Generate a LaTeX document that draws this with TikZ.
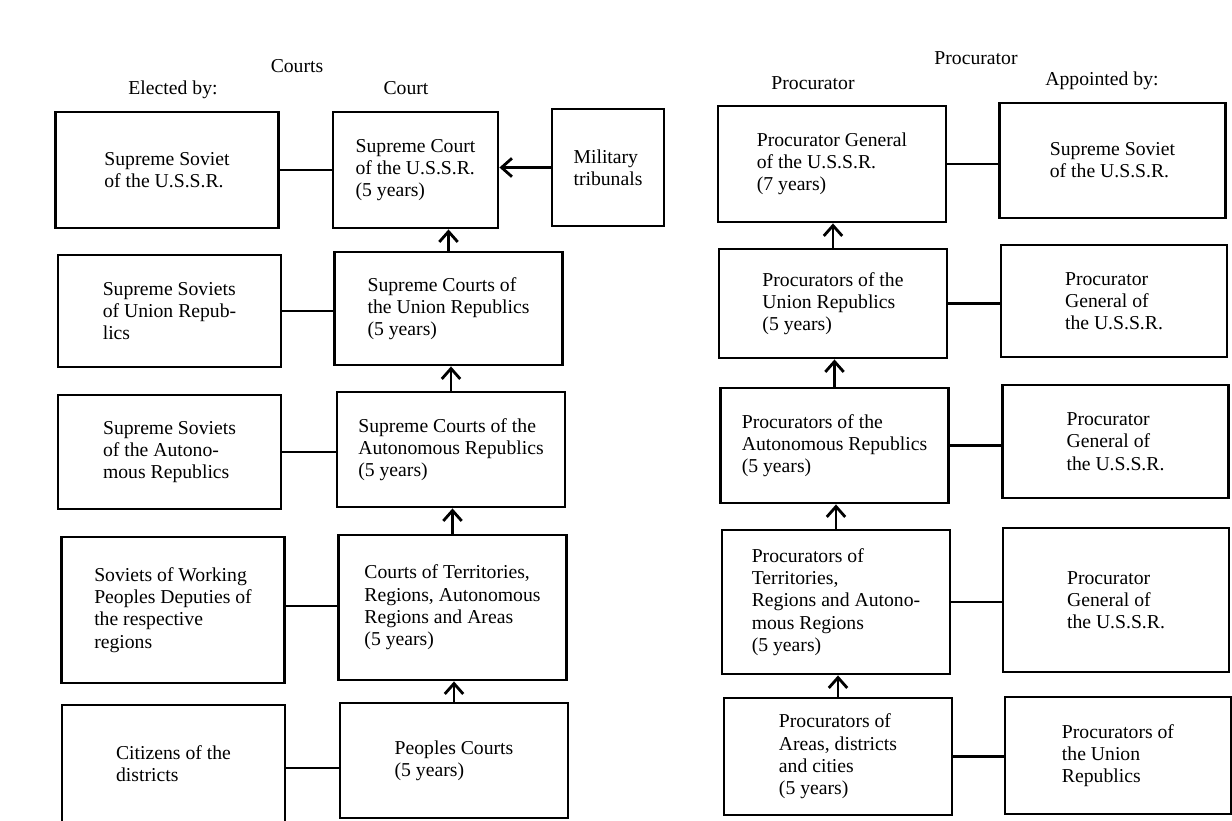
\documentclass[tikz,border=0pt]{standalone}
\usepackage{fontspec}
\setmainfont{Liberation Serif}
\usetikzlibrary{arrows.meta}

\begin{document}
\begin{tikzpicture}[x=0.025cm, y=-0.025cm, >={Straight Barb[length=2.6mm, width=4.6mm]},
  font=\fontsize{14}{15.8}\selectfont, align=left, line width=2pt,
  box/.style={draw, inner sep=0pt},
  elect/.style={box, minimum width=5.575cm},
  court/.style={box, minimum width=5.7cm},
  proc/.style={box, minimum width=5.7cm},
  appt/.style={box, minimum width=5.65cm}]
  \useasboundingbox (0,0) rectangle (1232,821);

  % headings
  \node (courts) at (297,66) {Courts};
  \node (elected) at (173,90) {Elected by:};
  \node (court) at (406,88) {Court};
  \node (procs) at (976,58) {Procurator};
  \node (proc) at (813,83) {Procurator};
  \node (appointed) at (1102,81) {Appointed by:};

  % electing bodies
  \node[elect, minimum height=2.9cm] (sov) at (167,170) {Supreme Soviet\\of the U.S.S.R.};
  \node[elect, minimum height=2.8cm] (sovrep) at (169.5,311) {Supreme Soviets\\of Union Repub-\\lics};
  \node[elect, minimum height=2.85cm] (sovaut) at (169.5,452) {Supreme Soviets\\of the Autono-\\mous Republics};
  \node[elect, minimum height=3.65cm] (sovreg) at (173,610) {Soviets of Working\\Peoples Deputies of\\the respective\\regions};
  \node[elect, minimum height=2.95cm] (cit) at (173.5,764) {Citizens of the\\districts};

  % courts
  \node[court, minimum width=4.125cm, minimum height=2.9cm] (sc) at (415.5,170) {Supreme Court\\of the U.S.S.R.\\(5 years)};
  \node[court, minimum height=2.825cm] (screp) at (448.5,308.5) {Supreme Courts of\\the Union Republics\\(5 years)};
  \node[court, minimum height=2.875cm] (scaut) at (451,449.5) {Supreme Courts of the\\Autonomous Republics\\(5 years)};
  \node[court, minimum height=3.625cm] (creg) at (452.5,607.5) {Courts of Territories,\\Regions, Autonomous\\Regions and Areas\\(5 years)};
  \node[court, minimum height=2.875cm] (pc) at (454,760.5) {Peoples Courts\\(5 years)};
  \node[box, minimum width=2.8cm, minimum height=2.925cm] (mil) at (608,167.5) {Military\\tribunals};

  % procurators
  \node[proc, minimum height=2.9cm] (pg) at (832,164) {Procurator General\\of the U.S.S.R.\\(7 years)};
  \node[proc, minimum height=2.725cm] (prep) at (833,303.5) {Procurators of the\\Union Republics\\(5 years)};
  \node[proc, minimum height=2.875cm] (paut) at (834.5,445.5) {Procurators of the\\Autonomous Republics\\(5 years)};
  \node[proc, minimum height=3.6cm] (preg) at (836,602) {Procurators of\\Territories,\\Regions and Autono-\\mous Regions\\(5 years)};
  \node[proc, minimum height=2.925cm] (parea) at (838,756.5) {Procurators of\\Areas, districts\\and cities\\(5 years)};

  % appointing bodies
  \node[appt, minimum height=2.875cm] (asov) at (1112.5,160.5) {Supreme Soviet\\of the U.S.S.R.};
  \node[appt, minimum height=2.8cm] (apg1) at (1114,301) {Procurator\\General of\\the U.S.S.R.};
  \node[appt, minimum height=2.825cm] (apg2) at (1115.5,441.5) {Procurator\\General of\\the U.S.S.R.};
  \node[appt, minimum height=3.6cm] (apg3) at (1116,600) {Procurator\\General of\\the U.S.S.R.};
  \node[appt, minimum height=2.925cm] (aprep) at (1118,755.5) {Procurators of\\the Union\\Republics};

  % elected by
  \draw (sov.east) -- (sov.east -| sc.west);
  \draw (sovrep.east) -- (sovrep.east -| screp.west);
  \draw (sovaut.east) -- (sovaut.east -| scaut.west);
  \draw ([yshift=0.1cm]sovreg.east) -- ([yshift=0.1cm]sovreg.east -| creg.west);
  \draw ([yshift=-0.1cm]cit.east) -- ([yshift=-0.1cm]cit.east -| pc.west);
  \draw[->] (mil.west) -- (mil.west -| sc.east);

  % court hierarchy
  \draw[->] (screp.north) -- (screp.north |- sc.south);
  \draw[->] (scaut.north) -- (scaut.north |- screp.south);
  \draw[->] (creg.north) -- (creg.north |- scaut.south);
  \draw[->] (pc.north) -- (pc.north |- creg.south);

  % procurator hierarchy
  \draw[->] (prep.north) -- (prep.north |- pg.south);
  \draw[->] (paut.north) -- (paut.north |- prep.south);
  \draw[->] (preg.north) -- (preg.north |- paut.south);
  \draw[->] (parea.north) -- (parea.north |- preg.south);

  % appointed by
  \draw (pg.east) -- (pg.east -| asov.west);
  \draw (prep.east) -- (prep.east -| apg1.west);
  \draw (paut.east) -- (paut.east -| apg2.west);
  \draw (preg.east) -- (preg.east -| apg3.west);
  \draw (parea.east) -- (parea.east -| aprep.west);
\end{tikzpicture}
\end{document}
